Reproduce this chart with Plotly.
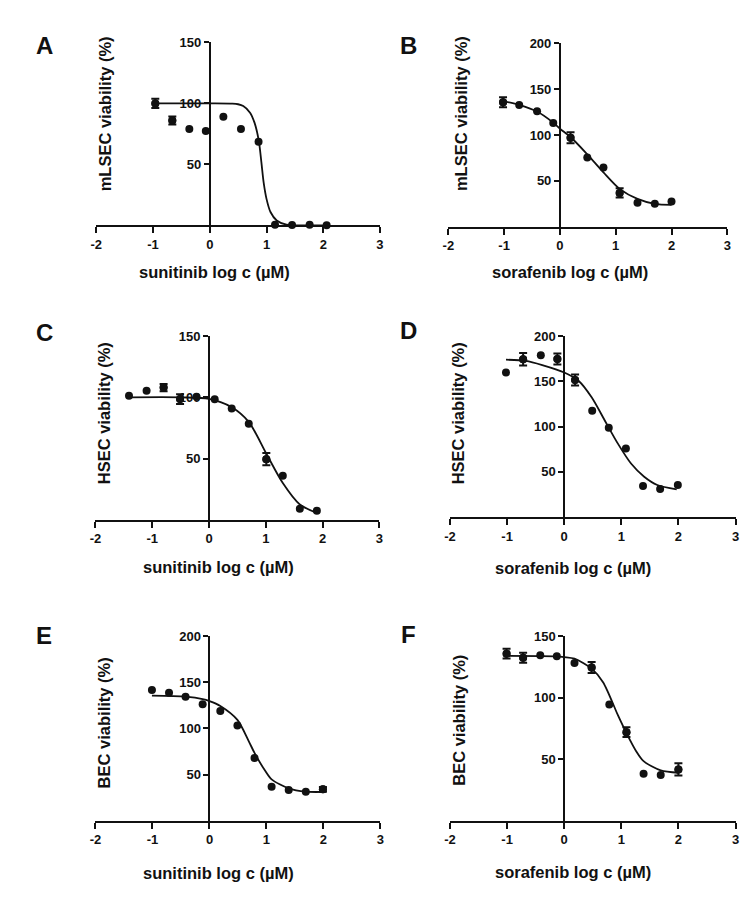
import plotly.graph_objects as go

W, H = 755, 918
FONT = "Liberation Sans, Arial, sans-serif"
INK = "#111111"

# ---------------- data ----------------
A_x = [-0.96, -0.66, -0.36, -0.07, 0.24, 0.55, 0.86, 1.15, 1.45, 1.76, 2.06]
A_y = [100, 86, 79, 77.4, 89, 79, 68.5, 0.5, 0.3, 0.5, 0]
A_err = [3.8, 3.3, 0, 0, 0, 0, 0, 0, 0, 0, 0]
A_fit_x = [-0.96, 0.0, 0.4, 0.5, 0.59, 0.71, 0.79, 0.865, 0.91, 0.95, 1.0, 1.07, 1.18, 1.35, 1.47, 2.06]
A_fit_y = [100, 100, 99.8, 99.3, 97.8, 92.4, 84, 69, 51.6, 35, 21.7, 10.9, 4, 0.5, 0, 0]

B_x = [-1.02, -0.73, -0.41, -0.12, 0.19, 0.49, 0.78, 1.07, 1.39, 1.70, 2.0]
B_y = [135.7, 132.9, 126, 113, 97, 75.5, 64.6, 36.8, 26, 25, 27.4]
B_err = [5.5, 0, 0, 0, 6, 0, 0, 5, 0, 0, 0]
B_fit_x = [-1.02, -0.73, -0.41, -0.12, 0, 0.19, 0.49, 0.78, 1.07, 1.39, 1.70, 2.0]
B_fit_y = [137, 133, 125.6, 113.4, 106.9, 97.8, 78.9, 59.2, 41.2, 30.3, 24.9, 23.8]

C_x = [-1.41, -1.10, -0.80, -0.51, -0.22, 0.10, 0.40, 0.70, 1.01, 1.30, 1.60, 1.90]
C_y = [101.4, 105.4, 108, 98.6, 100.5, 98.4, 91, 78.4, 49.5, 36, 8.9, 7.3]
C_err = [0, 0, 3, 4, 0, 0, 0, 0, 5, 0, 0, 0]
C_fit_x = [-1.41, -0.5, 0, 0.4, 0.7, 1.01, 1.3, 1.6, 1.9]
C_fit_y = [100, 100, 98.8, 92, 80, 54, 30, 12.5, 5.6]

D_x = [-1.02, -0.72, -0.41, -0.12, 0.19, 0.49, 0.78, 1.08, 1.38, 1.68, 1.99]
D_y = [159.8, 174.5, 178.8, 174.8, 151.5, 117.6, 98.7, 75.7, 34.4, 31, 35.5]
D_err = [0, 7, 0, 6, 6, 0, 0, 0, 0, 0, 0]
D_fit_x = [-1.02, -0.67, -0.385, 0, 0.25, 0.48, 0.71, 0.94, 1.17, 1.40, 1.63, 1.97]
D_fit_y = [174, 172.6, 168, 159.8, 150.7, 132.4, 106.8, 81.2, 59.2, 44.6, 35.5, 30.7]

E_x = [-1.01, -0.71, -0.42, -0.12, 0.19, 0.49, 0.79, 1.09, 1.39, 1.69, 1.99]
E_y = [141.6, 138.7, 134.4, 126.2, 119, 103.2, 68.1, 36.9, 33.3, 31.5, 34]
E_err = [0, 0, 0, 0, 0, 0, 0, 0, 0, 0, 2.5]
E_fit_x = [-1.01, -0.42, -0.12, 0, 0.19, 0.49, 0.69, 0.79, 0.98, 1.09, 1.39, 1.69, 1.99]
E_fit_y = [135.5, 134.4, 131.9, 129.7, 124.4, 109.3, 86, 73.5, 53.8, 44.8, 35.1, 31.5, 31.2]

F_x = [-1.01, -0.72, -0.42, -0.13, 0.18, 0.48, 0.79, 1.09, 1.39, 1.69, 2.0]
F_y = [135.8, 132.5, 134.4, 133.6, 128.2, 124.5, 94.4, 72, 38.2, 37.1, 41.7]
F_err = [4, 4, 0, 0, 0, 4.5, 0, 4, 0, 0, 5]
F_fit_x = [-1.01, -0.13, 0, 0.18, 0.48, 0.68, 0.94, 1.09, 1.26, 1.39, 1.69, 2.0]
F_fit_y = [134, 133.6, 133, 131.7, 123.6, 112.6, 85.8, 71.2, 56.5, 48.4, 40.9, 39]

X_TICKS = [-2, -1, 0, 1, 2, 3]
Y_TICKS_150 = [50, 100, 150]
Y_TICKS_200 = [50, 100, 150, 200]

LETTERS = ["A", "B", "C", "D", "E", "F"]
Y_TITLES = ["mLSEC viability (%)", "mLSEC viability (%)", "HSEC viability (%)",
            "HSEC viability (%)", "BEC viability (%)", "BEC viability (%)"]
X_TITLES = ["sunitinib log c (µM)", "sorafenib log c (µM)", "sunitinib log c (µM)",
            "sorafenib log c (µM)", "sunitinib log c (µM)", "sorafenib log c (µM)"]

# ---------------- layout geometry (pixels) ----------------
panels = [
    dict(data=(A_x, A_y, A_err, A_fit_x, A_fit_y), ymax=150, yt=Y_TICKS_150,
         xpx=(91.5, 379), ypx=(220, 35.7), letter=(28, 39), ytitle=(100.5, 108), xtitle=(211, 267)),
    dict(data=(B_x, B_y, B_err, B_fit_x, B_fit_y), ymax=200, yt=Y_TICKS_200,
         xpx=(448.3, 731), ypx=(221.3, 36.7), letter=(397, 39), ytitle=(460.5, 107.5), xtitle=(572, 267)),
    dict(data=(C_x, C_y, C_err, C_fit_x, C_fit_y), ymax=150, yt=Y_TICKS_150,
         xpx=(90.7, 378.3), ypx=(516.7, 331.7), letter=(28, 328), ytitle=(99.7, 409), xtitle=(215.5, 564)),
    dict(data=(D_x, D_y, D_err, D_fit_x, D_fit_y), ymax=200, yt=Y_TICKS_200,
         xpx=(450, 739.3), ypx=(514, 331.7), letter=(397, 326), ytitle=(457.5, 409), xtitle=(575, 565)),
    dict(data=(E_x, E_y, E_err, E_fit_x, E_fit_y), ymax=200, yt=Y_TICKS_200,
         xpx=(90.7, 379.5), ypx=(820, 634), letter=(28, 633), ytitle=(99.7, 721.5), xtitle=(215.5, 873)),
    dict(data=(F_x, F_y, F_err, F_fit_x, F_fit_y), ymax=150, yt=Y_TICKS_150,
         xpx=(450, 739.3), ypx=(820, 634), letter=(398, 632), ytitle=(458.3, 719), xtitle=(575, 872)),
]

fig = go.Figure()
layout = dict(
    width=W, height=H, margin=dict(l=0, r=0, t=0, b=0, pad=0),
    paper_bgcolor="white", plot_bgcolor="white", showlegend=False,
    font=dict(family=FONT, color=INK, weight="bold"),
)
annotations = []

for i, p in enumerate(panels, start=1):
    xs, ys, errs, fx, fy = p["data"]
    sfx = "" if i == 1 else str(i)
    xa, ya = "x" + sfx, "y" + sfx
    x0 = p["xpx"][0] / W
    x1 = p["xpx"][1] / W
    yb = 1 - p["ypx"][0] / H
    yt = 1 - p["ypx"][1] / H
    yaxis_pos = x0 + (0 - (-2)) / 5 * (x1 - x0)

    layout["xaxis" + sfx] = dict(
        domain=[x0, x1], range=[-2, 3], anchor=ya, tickvals=X_TICKS,
        ticktext=[str(v) for v in X_TICKS],
        ticks="outside", ticklen=6, tickwidth=2, tickcolor=INK,
        showline=True, linewidth=2, linecolor=INK, showgrid=False, zeroline=False,
        tickfont=dict(size=13, family=FONT, color=INK, weight="bold"),
        layer="below traces", fixedrange=True,
    )
    layout["yaxis" + sfx] = dict(
        domain=[yb, yt], range=[0, p["ymax"]], anchor="free", position=yaxis_pos,
        tickvals=p["yt"], ticks="outside", ticklen=5, tickwidth=2, tickcolor=INK,
        showline=True, linewidth=2, linecolor=INK, showgrid=False, zeroline=False,
        tickfont=dict(size=13, family=FONT, color=INK, weight="bold"),
        layer="below traces", fixedrange=True,
    )

    # fitted curve
    fig.add_trace(go.Scatter(
        x=fx, y=fy, mode="lines", line=dict(color=INK, width=1.8, shape="spline", smoothing=0.8),
        xaxis=xa, yaxis=ya, hoverinfo="skip", cliponaxis=False,
    ))
    # points with error bars
    ex = [x for x, e in zip(xs, errs) if e > 0]
    ey = [y for y, e in zip(ys, errs) if e > 0]
    ee = [e for e in errs if e > 0]
    if ee:
        fig.add_trace(go.Scatter(
            x=ex, y=ey, mode="markers", marker=dict(color=INK, size=8),
            error_y=dict(type="data", array=ee, visible=True, color=INK, thickness=2, width=4),
            xaxis=xa, yaxis=ya, cliponaxis=False,
        ))
    # all points
    fig.add_trace(go.Scatter(
        x=xs, y=ys, mode="markers", marker=dict(color=INK, size=8),
        xaxis=xa, yaxis=ya, cliponaxis=False,
    ))

    lx, ly = p["letter"]
    annotations.append(dict(
        text=LETTERS[i - 1], x=lx / W, y=1 - ly / H, xref="paper", yref="paper",
        xanchor="left", yanchor="middle", showarrow=False,
        font=dict(size=24, family=FONT, color=INK, weight="bold"),
    ))
    tx, ty = p["ytitle"]
    annotations.append(dict(
        text=Y_TITLES[i - 1], x=tx / W, y=1 - ty / H, xref="paper", yref="paper",
        xanchor="center", yanchor="middle", textangle=-90, showarrow=False,
        font=dict(size=16.5, family=FONT, color=INK, weight="bold"),
    ))
    tx, ty = p["xtitle"]
    annotations.append(dict(
        text=X_TITLES[i - 1], x=tx / W, y=1 - ty / H, xref="paper", yref="paper",
        xanchor="center", yanchor="middle", showarrow=False,
        font=dict(size=16.5, family=FONT, color=INK, weight="bold"),
    ))

layout["annotations"] = annotations
fig.update_layout(**layout)
fig.write_html(
    "out.html",
    config=dict(displayModeBar=False),
    post_script="document.body.style.margin='0';document.body.style.padding='0';document.body.style.overflow='hidden';",
)
